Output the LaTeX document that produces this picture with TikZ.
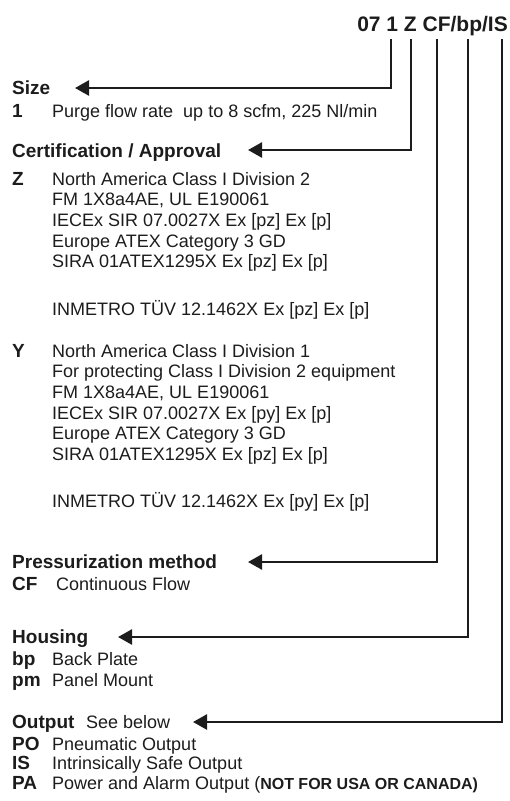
\documentclass[tikz,border=0pt]{standalone}
\usepackage{fontspec}
\setmainfont{Liberation Sans}
\usetikzlibrary{arrows.meta}
\definecolor{ink}{HTML}{1C1C1C}
\begin{document}
\begin{tikzpicture}[x=1pt,y=-1pt,
  txt/.style={anchor=base west, inner sep=0pt, text=ink, font=\fontsize{18}{20}\selectfont},
  lbl/.style={anchor=base west, inner sep=0pt, text=ink, font=\fontsize{19}{21}\selectfont\bfseries},
  conn/.style={line width=2.6pt, draw=ink, -{Triangle[length=14pt,width=15pt]}}]
\useasboundingbox (0,0) rectangle (510,801);
% title
\node[anchor=base east, inner sep=0pt, text=ink, font=\fontsize{21}{23}\selectfont\bfseries] (title) at (508,31) {07 1 Z CF/bp/IS};
% connector start points
\coordinate (tA) at (391,39);
\coordinate (tB) at (411,39);
\coordinate (tC) at (437,39);
\coordinate (tD) at (468,39);
\coordinate (tE) at (502,39);
% arrow tips
\coordinate (sizeTip) at (75,88);
\coordinate (certTip) at (248,150);
\coordinate (pressTip) at (248,562);
\coordinate (housTip) at (118,637);
\coordinate (outTip) at (193,722);
% Size
\node[lbl] (size) at (12,94) {Size};
\node[lbl] (c1) at (12,117) {1};
\node[txt] (d1) at (52,117) {Purge flow rate\ \ up to 8 scfm, 225 Nl/min};
% Certification
\node[lbl] (cert) at (12,157) {Certification / Approval};
\node[lbl] (cZ) at (12,185) {Z};
\node[txt] (z1) at (52,185) {North America Class I Division 2};
\node[txt] (z2) at (52,205.7) {FM 1X8a4AE, UL E190061};
\node[txt] (z3) at (52,226.4) {IECEx SIR 07.0027X Ex [pz] Ex [p]};
\node[txt] (z4) at (52,247.1) {Europe ATEX Category 3 GD};
\node[txt] (z5) at (52,267.8) {SIRA 01ATEX1295X Ex [pz] Ex [p]};
\node[txt] (z6) at (52,315) {INMETRO TÜV 12.1462X Ex [pz] Ex [p]};
\node[lbl] (cY) at (12,357) {Y};
\node[txt] (y1) at (52,357) {North America Class I Division 1};
\node[txt] (y2) at (52,377.7) {For protecting Class I Division 2 equipment};
\node[txt] (y3) at (52,398.4) {FM 1X8a4AE, UL E190061};
\node[txt] (y4) at (52,419.1) {IECEx SIR 07.0027X Ex [py] Ex [p]};
\node[txt] (y5) at (52,439.8) {Europe ATEX Category 3 GD};
\node[txt] (y6) at (52,460.5) {SIRA 01ATEX1295X Ex [pz] Ex [p]};
\node[txt] (y7) at (52,507) {INMETRO TÜV 12.1462X Ex [py] Ex [p]};
% Pressurization
\node[lbl] (press) at (12,568) {Pressurization method};
\node[lbl] (cCF) at (12,590) {CF};
\node[txt] (dCF) at (56,590) {Continuous Flow};
% Housing
\node[lbl] (hous) at (12,643) {Housing};
\node[lbl] (cbp) at (12,665) {bp};
\node[txt] (dbp) at (52,665) {Back Plate};
\node[lbl] (cpm) at (12,686) {pm};
\node[txt] (dpm) at (52,686) {Panel Mount};
% Output
\node[lbl] (out) at (12,728.5) {Output};
\node[txt] (outd) at (86,728.5) {See below};
\node[lbl] (cPO) at (12,750) {PO};
\node[txt] (dPO) at (52,750) {Pneumatic Output};
\node[lbl] (cIS) at (12,769.5) {IS};
\node[txt] (dIS) at (52,769.5) {Intrinsically Safe Output};
\node[lbl] (cPA) at (12,789) {PA};
\node[txt] (dPA) at (52,789) {Power and Alarm Output (\fontsize{16}{18}\selectfont\bfseries NOT FOR USA OR CANADA)};
% connectors
\draw[conn] (tA) |- (sizeTip);
\draw[conn] (tB) |- (certTip);
\draw[conn] (tC) |- (pressTip);
\draw[conn] (tD) |- (housTip);
\draw[conn] (tE) |- (outTip);
\end{tikzpicture}
\end{document}
